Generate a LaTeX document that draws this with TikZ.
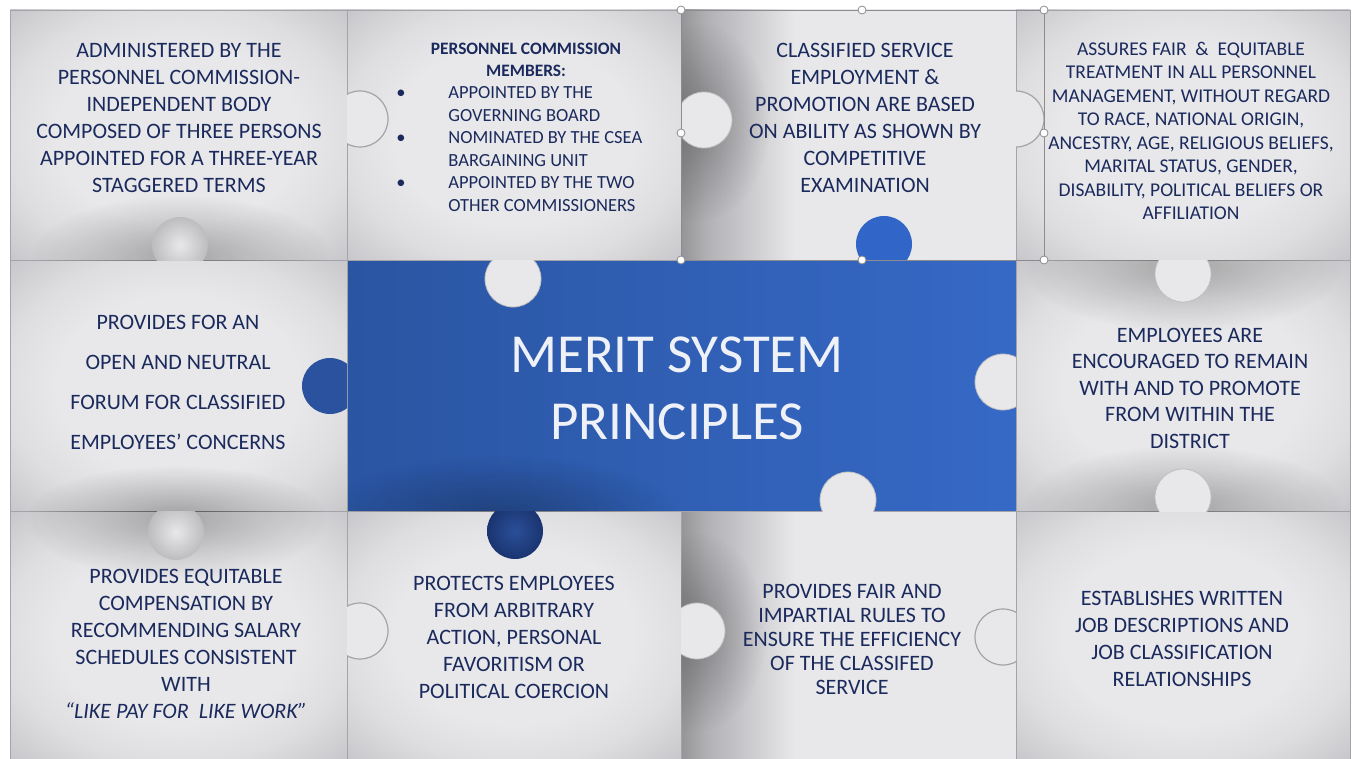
\documentclass[tikz,border=0pt]{standalone}
\usepackage{fontspec}
\setmainfont{Carlito}
\usepackage{tikz}
\usetikzlibrary{fadings}
\definecolor{navytext}{HTML}{1B2A5C}
\definecolor{tilehi}{HTML}{E8E8EA}
\definecolor{tilemid}{HTML}{DEDEE0}
\definecolor{tilelo}{HTML}{C6C6CA}
\definecolor{tileline}{HTML}{A3A3A8}
\definecolor{bluelo}{HTML}{2A55A2}
\definecolor{bluehi}{HTML}{3669C6}
\definecolor{blueknob}{HTML}{3166C8}
\definecolor{blueleft}{HTML}{2A529E}
\definecolor{deepin}{HTML}{2A4F98}
\definecolor{deepout}{HTML}{1A3470}
\definecolor{titlewhite}{HTML}{EEF1F7}
\definecolor{handlegray}{HTML}{8C8C90}
\pgfdeclareradialshading{tilesoft}{\pgfpointorigin}{color(0bp)=(tilehi); color(18bp)=(tilehi); color(26bp)=(tilemid); color(36bp)=(tilelo); color(50bp)=(tilelo)}
\pgfdeclarehorizontalshading{tiledark}{100bp}{color(0bp)=(tilelo!75!black); color(25bp)=(tilelo!75!black); color(29bp)=(tilelo!90!black); color(34bp)=(tilelo); color(42bp)=(tilehi); color(75bp)=(tilehi); color(100bp)=(tilehi)}
\pgfdeclareradialshading{shadowshade}{\pgfpointorigin}{color(0bp)=(white!60!black); color(25bp)=(black); color(50bp)=(black)}
\pgfdeclarefading{shadowfade}{\pgfuseshading{shadowshade}}
\tikzset{%
  tilebox/.style={shading=tilesoft, draw=tileline, line width=0.4pt},
  tileedge/.style={shading=tiledark, draw=tileline, line width=0.4pt},
  bluebox/.style={left color=bluelo, right color=bluehi, draw=tileline, line width=0.4pt},
  softshadow/.style={fill=black, fill opacity=0.45, path fading=shadowfade},
  knoblight/.style={fill=tilehi, draw=tileline!70, line width=0.4pt},
  knobgray/.style={inner color=tilehi, outer color=tilemid!85!black},
  knobline/.style={fill=tilehi, draw=tileline, line width=0.6pt},
  knobdeep/.style={inner color=deepin, outer color=deepout},
  tiletext/.style={text=navytext, align=center, inner sep=0pt, font=\fontsize{11}{13.5}\selectfont},
  handle/.style={fill=white, draw=handlegray, line width=0.4pt}
}
% puzzle knob: centre, look, clip corners
\newcommand\knob[4]{%
  \begin{scope}
    \clip #3 rectangle #4;
    \path[#2] #1 circle (14pt);
  \end{scope}}
\newcommand\shadowblob[4]{%
  \begin{scope}
    \clip #3 rectangle #4;
    \path[softshadow] #1 ellipse (#2);
  \end{scope}}

\begin{document}
\begin{tikzpicture}[x=0.5pt,y=-0.5pt]
\useasboundingbox (0,0) rectangle (1353,759);
\fill[white] (0,0) rectangle (1353,759);
% tiles
\shade[tilebox] (10,10) rectangle (347,260);
\shade[tilebox] (347,10) rectangle (681,260);
\shade[tileedge] (681,10) rectangle (1016,260);
\shade[tilebox] (1016,10) rectangle (1350,260);
\shade[tilebox] (10,260) rectangle (347,511);
\shade[bluebox] (347,260) rectangle (1016,511);
\shade[tilebox] (1016,260) rectangle (1350,511);
\shade[tilebox] (10,511) rectangle (347,759);
\shade[tilebox] (347,511) rectangle (681,759);
\shade[tileedge] (681,511) rectangle (1016,759);
\shade[tilebox] (1016,511) rectangle (1350,759);
% shadows
\shadowblob{(180,255)}{75pt and 30pt}{(10,10)}{(347,260)}
\shadowblob{(176,515)}{75pt and 25pt}{(10,260)}{(347,511)}
\shadowblob{(176,520)}{75pt and 30pt}{(10,511)}{(347,759)}
\shadowblob{(1183,268)}{80pt and 32pt}{(1016,260)}{(1350,511)}
\shadowblob{(1183,505)}{80pt and 30pt}{(1016,260)}{(1350,511)}
\shadowblob{(700,122)}{35pt and 50pt}{(681,10)}{(1016,260)}
\shadowblob{(697,632)}{35pt and 50pt}{(681,511)}{(1016,759)}
\shadowblob{(500,515)}{90pt and 30pt}{(347,260)}{(1016,511)}
% knobs
\knob{(180,245)}{knobgray}{(10,10)}{(347,260)}
\knob{(360,119)}{knobline}{(347,10)}{(681,260)}
\knob{(513,279)}{knoblight}{(347,260)}{(1016,511)}
\knob{(704,120)}{knoblight}{(681,10)}{(1016,260)}
\knob{(884,244)}{fill=blueknob}{(681,10)}{(1016,260)}
\knob{(1016,119)}{knobline}{(1016,10)}{(1350,260)}
\knob{(1183,274)}{knoblight}{(1016,260)}{(1350,511)}
\knob{(330,386)}{fill=blueleft}{(10,260)}{(347,511)}
\knob{(1003,382)}{knoblight}{(347,260)}{(1016,511)}
\knob{(848,500)}{knoblight}{(347,260)}{(1016,511)}
\knob{(1183,497)}{knoblight}{(1016,260)}{(1350,511)}
\knob{(176,532)}{knobgray}{(10,511)}{(347,759)}
\knob{(515,531)}{knobdeep}{(347,511)}{(681,759)}
\knob{(360,631)}{knobline}{(347,511)}{(681,759)}
\knob{(697,631)}{knoblight}{(681,511)}{(1016,759)}
\knob{(1003,637)}{knobline}{(681,511)}{(1016,759)}
% texts
\node[tiletext] (t11) at (179,117.5) {ADMINISTERED BY THE\\PERSONNEL COMMISSION-\\INDEPENDENT BODY\\COMPOSED OF THREE PERSONS\\APPOINTED FOR A THREE-YEAR\\STAGGERED TERMS};
\node[tiletext, font=\fontsize{8.7}{11}\selectfont\bfseries] (t12head) at (526,60) {PERSONNEL COMMISSION\\MEMBERS:};
\node[tiletext, align=left, anchor=north west, font=\fontsize{9.25}{11.3}\selectfont] (t12list) at (396,86)
  {\makebox[26pt][l]{\textbullet}APPOINTED BY THE\\\hspace*{26pt}GOVERNING BOARD\\
   \makebox[26pt][l]{\textbullet}NOMINATED BY THE CSEA\\\hspace*{26pt}BARGAINING UNIT\\
   \makebox[26pt][l]{\textbullet}APPOINTED BY THE TWO\\\hspace*{26pt}OTHER COMMISSIONERS};
\node[tiletext] (t13) at (865,117.5) {CLASSIFIED SERVICE\\EMPLOYMENT \&\\PROMOTION ARE BASED\\ON ABILITY AS SHOWN BY\\COMPETITIVE\\EXAMINATION};
\node[tiletext, font=\fontsize{9.75}{11.75}\selectfont] (t14) at (1191,131) {ASSURES FAIR \ \& \ EQUITABLE\\TREATMENT IN ALL PERSONNEL\\MANAGEMENT, WITHOUT REGARD\\TO RACE, NATIONAL ORIGIN,\\ANCESTRY, AGE, RELIGIOUS BELIEFS,\\MARITAL STATUS, GENDER,\\DISABILITY, POLITICAL BELIEFS OR\\AFFILIATION};
\node[tiletext, font=\fontsize{11}{20}\selectfont] (t21) at (178,382) {PROVIDES FOR AN\\OPEN AND NEUTRAL\\FORUM FOR CLASSIFIED\\EMPLOYEES’ CONCERNS};
\node[tiletext, text=titlewhite, font=\fontsize{27.5}{33.5}\selectfont] (title) at (677,388.5) {MERIT SYSTEM\\PRINCIPLES};
\node[tiletext, font=\fontsize{11}{13.25}\selectfont] (t24) at (1190,388) {EMPLOYEES ARE\\ENCOURAGED TO REMAIN\\WITH AND TO PROMOTE\\FROM WITHIN THE\\DISTRICT};
\node[tiletext] (t31) at (186,644) {PROVIDES EQUITABLE\\COMPENSATION BY\\RECOMMENDING SALARY\\SCHEDULES CONSISTENT\\WITH\\\textit{“LIKE PAY FOR \ LIKE WORK”}};
\node[tiletext] (t32) at (514,637.5) {PROTECTS EMPLOYEES\\FROM ARBITRARY\\ACTION, PERSONAL\\FAVORITISM OR\\POLITICAL COERCION};
\node[tiletext, font=\fontsize{11}{12}\selectfont] (t33) at (852,639) {PROVIDES FAIR AND\\IMPARTIAL RULES TO\\ENSURE THE EFFICIENCY\\OF THE CLASSIFED\\SERVICE};
\node[tiletext] (t34) at (1182,638.5) {ESTABLISHES WRITTEN\\JOB DESCRIPTIONS AND\\JOB CLASSIFICATION\\RELATIONSHIPS};
% selection frame
\draw[handlegray, line width=0.4pt] (681,10) rectangle (1044,260);
\foreach \p in {(681,10),(862,10),(1044,10),(681,133),(1044,133),(681,260),(862,260),(1044,260)}
  \draw[handle] \p circle (2pt);
\end{tikzpicture}
\end{document}
